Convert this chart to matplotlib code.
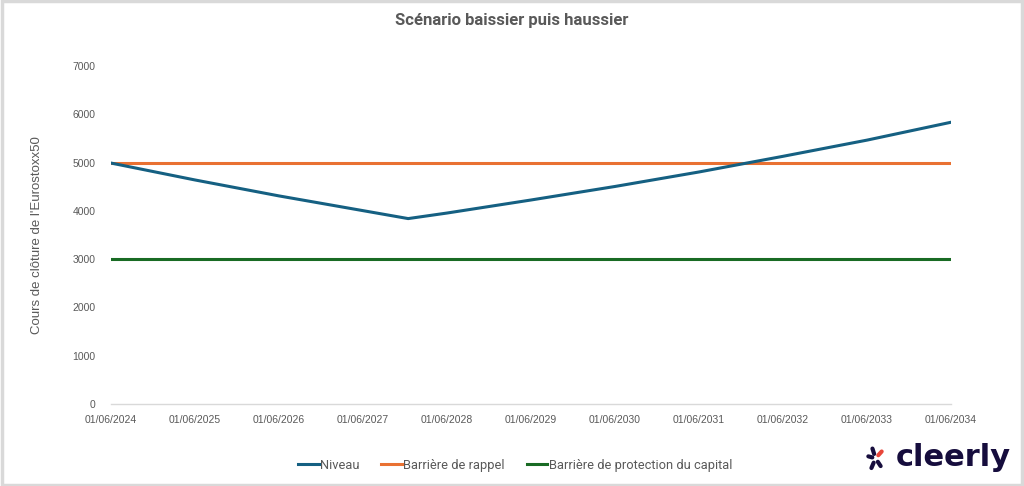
import pandas as pd
import matplotlib
matplotlib.use("Agg")
import matplotlib.pyplot as plt
import matplotlib.dates as mdates
from matplotlib import font_manager
from matplotlib.lines import Line2D
from matplotlib.patches import Rectangle

# ---- data ----
dates = ["2024-06-01", "2025-06-01", "2026-06-01", "2027-06-01", "2027-12-15",
         "2028-06-01", "2029-06-01", "2030-06-01", "2031-06-01", "2032-06-01",
         "2033-06-01", "2034-06-01"]
niveau = [4990, 4640, 4310, 4005, 3840, 3955, 4225, 4505, 4805, 5130, 5465, 5835]
barriere_rappel = 5000
barriere_protection = 3000
tick_years = list(range(2024, 2035))

title = "Scénario baissier puis haussier"
ylabel = "Cours de clôture de l'Eurostoxx50"
labels = ["Niveau", "Barrière de rappel", "Barrière de protection du capital"]

BLUE = "#156082"
ORANGE = "#E97132"
GREEN = "#196B24"
GRAY = "#595959"

names = {f.name for f in font_manager.fontManager.ttflist}
narrow = "Liberation Sans Narrow" if "Liberation Sans Narrow" in names else "Roboto"
plt.rcParams["font.family"] = ["Liberation Sans", "DejaVu Sans"]

x = pd.to_datetime(dates)
start, end = x[0], x[-1]

fig = plt.figure(figsize=(10.24, 4.86), dpi=100)
ax = fig.add_axes([0.1084, 0.1687, 0.8203, 0.6955])

ax.plot(x, niveau, color=BLUE, lw=2.2, solid_joinstyle="miter", zorder=3)
ax.plot([start, end], [barriere_rappel] * 2, color=ORANGE, lw=2.2, zorder=2)
ax.plot([start, end], [barriere_protection] * 2, color=GREEN, lw=2.2, zorder=2)

ax.set_xlim(start, end)
ax.set_ylim(0, 7000)
ax.set_yticks(range(0, 7001, 1000))
ax.set_xticks(pd.to_datetime([f"{y}-06-01" for y in tick_years]))
ax.xaxis.set_major_formatter(mdates.DateFormatter("%d/%m/%Y"))

for s in ["top", "right", "left"]:
    ax.spines[s].set_visible(False)
ax.spines["bottom"].set_color("#d9d9d9")
ax.spines["bottom"].set_linewidth(1.0)
ax.tick_params(axis="both", length=0, colors=GRAY, labelsize=7.5)
ax.tick_params(axis="y", pad=11)
ax.tick_params(axis="x", pad=8)

ax.set_ylabel(ylabel, color=GRAY, fontsize=9.5, labelpad=21)
fig.text(0.5, 0.958, title, ha="center", va="center", fontsize=12,
         fontweight="bold", color=GRAY, family=[narrow, "DejaVu Sans"])

handles = [Line2D([], [], color=c, lw=2.2) for c in (BLUE, ORANGE, GREEN)]
fig.legend(handles, labels, loc="center", bbox_to_anchor=(0.503, 0.043),
           ncol=3, frameon=False, handlelength=1.6,
           handletextpad=0.1, columnspacing=1.7,
           labelcolor=GRAY, prop={"family": [narrow, "DejaVu Sans"], "size": 9.3})

# logo
fig.text(0.987, 0.058, "cleerly", ha="right", va="center", fontsize=22,
         fontweight="bold", color="#160d3d", family=["DejaVu Sans"])
lx, ly = 0.855, 0.057
for dx, dy, c in [(-0.007, 0.004, "#160d3d"), (-0.003, 0.02, "#160d3d"),
                  (-0.004, -0.02, "#160d3d"), (0.005, -0.016, "#160d3d"),
                  (0.006, 0.014, "#e8463a")]:
    fig.add_artist(Line2D([lx + dx * 0.45, lx + dx], [ly + dy * 0.45, ly + dy],
                          transform=fig.transFigure, color=c, lw=3.0,
                          solid_capstyle="round"))

# light chart-area border
fig.add_artist(Rectangle((0.0015, 0.003), 0.997, 0.994, transform=fig.transFigure,
                         fill=False, edgecolor="#d9d9d9", lw=2.5))

fig.savefig("out.png", dpi=100, facecolor="white")
